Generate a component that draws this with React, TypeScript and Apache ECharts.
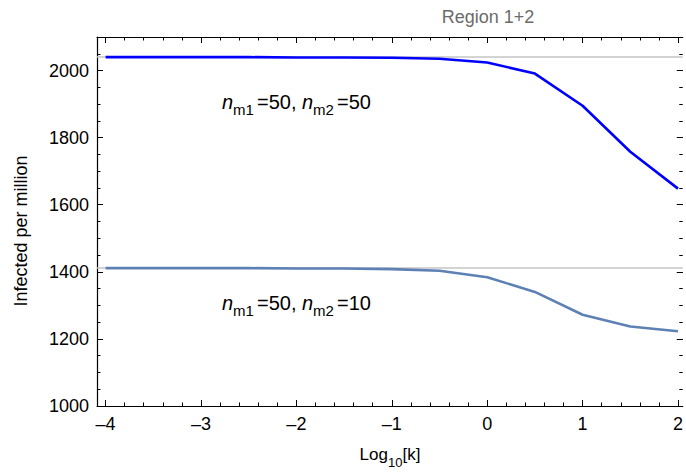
import React, { useEffect, useRef } from "react";
import * as echarts from "echarts";

// ---- data ----
const logK = [-4, -3.5, -3, -2.5, -2, -1.5, -1, -0.5, 0, 0.5, 1, 1.5, 2];
const infected5050 = [2040, 2040, 2040, 2040, 2039, 2039, 2038, 2035, 2024, 1991, 1895, 1758, 1648];
const infected5010 = [1411, 1411, 1411, 1411, 1410, 1410, 1408, 1403, 1384, 1340, 1272, 1237, 1223];
const plateau5050 = 2041;
const plateau5010 = 1412;

const xMajorTicks = [-4, -3, -2, -1, 0, 1, 2];
const xMinorTicks = [
  -4, -3.8, -3.6, -3.4, -3.2, -3, -2.8, -2.6, -2.4, -2.2, -2, -1.8, -1.6, -1.4, -1.2, -1,
  -0.8, -0.6, -0.4, -0.2, 0, 0.2, 0.4, 0.6, 0.8, 1, 1.2, 1.4, 1.6, 1.8, 2,
];
const yMajorTicks = [1000, 1200, 1400, 1600, 1800, 2000];
const yMinorTicks = [
  1000, 1050, 1100, 1150, 1200, 1250, 1300, 1350, 1400, 1450, 1500, 1550, 1600, 1650, 1700,
  1750, 1800, 1850, 1900, 1950, 2000, 2050, 2100,
];

const X_MIN = -4.09;
const X_MAX = 2.05;
const Y_MIN = 1000;
const Y_MAX = 2100;

const FONT = "'Liberation Sans', Arial, sans-serif";

const fmtX = (v: number) => (v < 0 ? "\u2013" + Math.abs(v) : String(v));
const fmtY = (v: number) => String(v);

export default function App() {
  const ref = useRef<HTMLDivElement>(null);

  useEffect(() => {
    if (!ref.current) return;
    const chart = echarts.init(ref.current, null, { renderer: "svg" });

    const lineStyle = { color: "#000", width: 1.2 };

    const xAxisBase = (position: "top" | "bottom", major: boolean, labels: boolean, showLine: boolean) => ({
      type: "value" as const,
      min: X_MIN,
      max: X_MAX,
      position,
      axisLine: { show: showLine, onZero: false, lineStyle },
      splitLine: { show: false },
      axisTick: {
        show: true,
        inside: true,
        length: major ? 6 : 3.5,
        customValues: major ? xMajorTicks : xMinorTicks,
        lineStyle: { color: "#000", width: 1 },
      },
      axisLabel: labels
        ? {
            show: true,
            customValues: xMajorTicks,
            formatter: fmtX,
            color: "#000",
            fontSize: 18,
            fontFamily: FONT,
            margin: 9,
          }
        : { show: false },
    });

    const yAxisBase = (position: "left" | "right", major: boolean, labels: boolean, showLine: boolean) => ({
      type: "value" as const,
      min: Y_MIN,
      max: Y_MAX,
      position,
      axisLine: { show: showLine, onZero: false, lineStyle },
      splitLine: { show: false },
      axisTick: {
        show: true,
        inside: true,
        length: major ? 6 : 3.5,
        customValues: major ? yMajorTicks : yMinorTicks,
        lineStyle: { color: "#000", width: 1 },
      },
      axisLabel: labels
        ? {
            show: true,
            customValues: yMajorTicks,
            formatter: fmtY,
            color: "#000",
            fontSize: 18,
            fontFamily: FONT,
            margin: 8,
          }
        : { show: false },
    });

    const mainTok = (italic: boolean, size: number, lh: number) => ({
      fontStyle: italic ? "italic" : "normal",
      fontSize: size,
      fontFamily: FONT,
      fill: "#000",
      lineHeight: lh,
      verticalAlign: "top",
    });
    const subTok = (size: number, padRight: number, lh: number) => ({
      fontSize: size,
      fontFamily: FONT,
      fill: "#000",
      lineHeight: lh,
      verticalAlign: "bottom",
      padding: [0, padRight, 0, 0],
    });

    const annot = (text2: string, x: number, y: number) => ({
      type: "text",
      x,
      y,
      silent: true,
      style: {
        text: `{i|n}{s|m1}{r|=50, }{i|n}{s|m2}{r|=${text2}}`,
        rich: {
          i: mainTok(true, 20, 24),
          s: subTok(15, 3, 25),
          r: mainTok(false, 20, 24),
        },
      },
    });

    chart.setOption({
      animation: false,
      backgroundColor: "#fff",
      grid: { left: 97, right: 2, top: 37, bottom: 68, containLabel: false },
      xAxis: [
        xAxisBase("bottom", true, true, true),
        xAxisBase("bottom", false, false, false),
        xAxisBase("top", true, false, true),
        xAxisBase("top", false, false, false),
      ],
      yAxis: [
        yAxisBase("left", true, true, true),
        yAxisBase("left", false, false, false),
        yAxisBase("right", true, false, false),
        yAxisBase("right", false, false, false),
      ],
      series: [
        {
          type: "line",
          name: "nm2=10",
          data: logK.map((x, i) => [x, infected5010[i]]),
          xAxisIndex: 0,
          yAxisIndex: 0,
          showSymbol: false,
          symbol: "none",
          lineStyle: { color: "#5E81B5", width: 2.6 },
          z: 3,
          markLine: {
            silent: true,
            symbol: "none",
            label: { show: false },
            lineStyle: { color: "#C4C4C4", width: 1.5, type: "solid" },
            data: [{ yAxis: plateau5010 }],
            z: 1,
          },
        },
        {
          type: "line",
          name: "nm2=50",
          data: logK.map((x, i) => [x, infected5050[i]]),
          xAxisIndex: 0,
          yAxisIndex: 0,
          showSymbol: false,
          symbol: "none",
          lineStyle: { color: "#0000FF", width: 2.6 },
          z: 3,
          markLine: {
            silent: true,
            symbol: "none",
            label: { show: false },
            lineStyle: { color: "#C4C4C4", width: 1.5, type: "solid" },
            data: [{ yAxis: plateau5050 }],
            z: 1,
          },
        },
      ],
      graphic: [
        {
          type: "text",
          silent: true,
          x: 488,
          y: 17,
          style: {
            text: "Region 1+2",
            align: "center",
            verticalAlign: "middle",
            fontSize: 18,
            fontFamily: FONT,
            fill: "#6B6B6B",
          },
        },
        {
          type: "text",
          silent: true,
          x: 21,
          y: 231,
          rotation: Math.PI / 2,
          style: {
            text: "Infected per million",
            align: "center",
            verticalAlign: "middle",
            fontSize: 18,
            fontFamily: FONT,
            fill: "#000",
          },
        },
        {
          type: "text",
          silent: true,
          x: 390,
          y: 446,
          style: {
            text: "{a|Log}{s|10}{a|[k]}",
            align: "center",
            rich: {
              a: mainTok(false, 17, 22),
              s: subTok(13, 0, 23),
            },
          },
        },
        annot("50", 222, 92),
        annot("10", 222, 293),
      ],
    });

    return () => chart.dispose();
  }, []);

  return (
    <div
      ref={ref}
      style={{ position: "absolute", left: 0, top: 0, width: 686, height: 474, background: "#fff" }}
    />
  );
}
